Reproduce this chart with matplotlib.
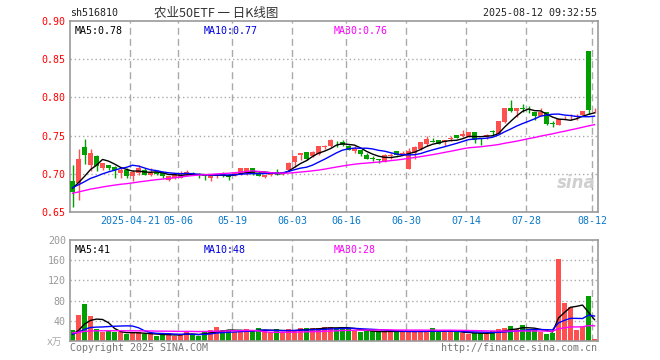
import numpy as np
import pandas as pd
import matplotlib
matplotlib.use("Agg")
import matplotlib.pyplot as plt

plt.rcParams['font.family'] = ['DejaVu Sans Mono', 'Noto Sans CJK SC']

# daily candles, 2025-04-07 .. 2025-08-12
opens = [0.690, 0.688, 0.735, 0.711, 0.723, 0.708, 0.712, 0.709, 0.701, 0.705,
         0.697, 0.701, 0.705, 0.698, 0.703, 0.701, 0.692, 0.6945, 0.695, 0.699,
         0.701, 0.700, 0.699, 0.695, 0.6965, 0.700, 0.699, 0.698, 0.700, 0.701,
         0.707, 0.7017, 0.6956, 0.6983, 0.7026, 0.6996, 0.7044, 0.716, 0.7249, 0.728,
         0.7235, 0.7253, 0.7345, 0.7358, 0.7428, 0.7411, 0.737, 0.7295, 0.7313, 0.725,
         0.7199, 0.7184, 0.7152, 0.7237, 0.7304, 0.7255, 0.7067, 0.7277, 0.7322, 0.7384,
         0.7429, 0.7447, 0.7411, 0.7456, 0.7504, 0.7491, 0.7476, 0.7546, 0.7458, 0.7476,
         0.7548, 0.752, 0.7677, 0.786, 0.7825, 0.7855, 0.785, 0.7808, 0.7755, 0.7808,
         0.766, 0.7642, 0.7725, 0.7751, 0.7742, 0.7769, 0.8607, 0.783]
highs = [0.711, 0.732, 0.746, 0.732, 0.724, 0.714, 0.712, 0.710, 0.708, 0.708,
         0.705, 0.711, 0.708, 0.707, 0.704, 0.702, 0.697, 0.699, 0.704, 0.705,
         0.702, 0.701, 0.700, 0.699, 0.700, 0.703, 0.700, 0.7005, 0.708, 0.708,
         0.708, 0.7035, 0.699, 0.703, 0.7057, 0.7026, 0.716, 0.7231, 0.7275, 0.728,
         0.730, 0.737, 0.7383, 0.745, 0.7432, 0.7438, 0.738, 0.736, 0.7315, 0.7268,
         0.7233, 0.7195, 0.726, 0.727, 0.7304, 0.7304, 0.7335, 0.737, 0.7415, 0.750,
         0.7465, 0.7447, 0.7447, 0.750, 0.7504, 0.757, 0.7546, 0.7546, 0.7467, 0.7519,
         0.7572, 0.769, 0.786, 0.7965, 0.786, 0.7915, 0.789, 0.7808, 0.7855, 0.7808,
         0.7685, 0.7712, 0.7751, 0.7777, 0.7785, 0.782, 0.8607, 0.786]
lows = [0.657, 0.666, 0.713, 0.704, 0.704, 0.705, 0.705, 0.694, 0.695, 0.694,
        0.691, 0.699, 0.698, 0.697, 0.699, 0.694, 0.690, 0.693, 0.694, 0.698,
        0.698, 0.694, 0.692, 0.691, 0.695, 0.696, 0.692, 0.697, 0.699, 0.699,
        0.699, 0.697, 0.694, 0.697, 0.6987, 0.699, 0.704, 0.709, 0.718, 0.7185,
        0.7225, 0.7245, 0.733, 0.735, 0.7355, 0.736, 0.731, 0.727, 0.7237, 0.719,
        0.717, 0.7146, 0.715, 0.719, 0.7245, 0.7245, 0.706, 0.7192, 0.7315, 0.737,
        0.7415, 0.739, 0.7366, 0.7429, 0.7465, 0.748, 0.7476, 0.7406, 0.738, 0.7458,
        0.7506, 0.752, 0.767, 0.781, 0.7747, 0.781, 0.7795, 0.770, 0.7755, 0.7633,
        0.7607, 0.7642, 0.7712, 0.7707, 0.770, 0.7769, 0.778, 0.779]
closes = [0.676, 0.719, 0.724, 0.727, 0.710, 0.714, 0.708, 0.705, 0.705, 0.697,
          0.703, 0.708, 0.699, 0.703, 0.700, 0.697, 0.6965, 0.698, 0.699, 0.702,
          0.699, 0.698, 0.6965, 0.699, 0.699, 0.698, 0.6955, 0.7005, 0.707, 0.707,
          0.7017, 0.6974, 0.6983, 0.7026, 0.700, 0.7022, 0.7144, 0.7231, 0.7275, 0.7192,
          0.7288, 0.7362, 0.7366, 0.744, 0.7424, 0.7375, 0.7317, 0.7322, 0.7259, 0.7197,
          0.7195, 0.718, 0.725, 0.7241, 0.725, 0.7273, 0.7304, 0.7348, 0.7411, 0.745,
          0.742, 0.7393, 0.7447, 0.7465, 0.7469, 0.7518, 0.7546, 0.7441, 0.7454, 0.7502,
          0.7546, 0.769, 0.786, 0.7825, 0.786, 0.785, 0.7845, 0.7755, 0.7808, 0.765,
          0.7655, 0.7712, 0.773, 0.7755, 0.775, 0.782, 0.7834, 0.7832]
volumes = [21, 51, 73, 49, 23, 17, 19, 17, 17, 13,
           17, 17, 13, 13, 9, 13, 15, 10, 13, 18,
           13, 10, 18, 21, 27, 21, 21, 17, 20, 23,
           20, 25, 20, 18, 23, 18, 23, 20, 25, 25,
           25, 25, 27, 28, 25, 27, 24, 20, 17, 19,
           19, 19, 19, 19, 19, 19, 19, 19, 19, 19,
           25, 17, 20, 19, 17, 15, 13, 16, 16, 16,
           19, 23, 25, 29, 23, 31, 23, 21, 17, 13,
           15, 162, 76, 68, 22, 28, 90, 3]

# days before the window (not drawn), estimated from where the MA lines start
pre_close = [0.668, 0.669, 0.670, 0.671, 0.670, 0.669, 0.671, 0.672, 0.673, 0.672,
             0.671, 0.670, 0.671, 0.672, 0.673, 0.672, 0.671, 0.670, 0.671, 0.672,
             0.681, 0.683, 0.684, 0.682, 0.683, 0.682, 0.683, 0.682, 0.682]
pre_vol = [17, 18, 17, 16, 17, 18, 17, 16, 17, 18,
           17, 16, 17, 18, 17, 16, 17, 18, 17, 16,
           16, 15, 14, 15, 14, 11, 11, 12, 10]

tick_idx = [10, 18, 27, 37, 46, 56, 66, 76, 87]
tick_labels = ['2025-04-21', '05-06', '05-19', '06-03', '06-16', '06-30', '07-14', '07-28', '08-12']
price_levels = [0.65, 0.70, 0.75, 0.80, 0.85, 0.90]
vol_levels = [40, 80, 120, 160, 200]
price_ma_text = ['MA5:0.78', 'MA10:0.77', 'MA30:0.76']
vol_ma_text = ['MA5:41', 'MA10:48', 'MA30:28']

RED = '#ff5050'
GREEN = '#00a000'
MA_COLORS = ['black', '#0000ff', '#ff00ff']

n = len(closes)
x = np.arange(n)
o = np.array(opens); h = np.array(highs); l = np.array(lows); c = np.array(closes)
up = c >= o
colors = [RED if u else GREEN for u in up]

cs = pd.Series(pre_close + closes)
vs = pd.Series(pre_vol + volumes)
k = len(pre_close)
price_ma = [cs.rolling(p).mean().iloc[k:].values for p in (5, 10, 30)]
vol_ma = [vs.rolling(p).mean().iloc[k:].values for p in (5, 10, 30)]

W, H = 660, 360
fig = plt.figure(figsize=(W / 100, H / 100), dpi=100)


def rect(left, top, right, bottom):
    return [left / W, 1 - bottom / H, (right - left) / W, (bottom - top) / H]


ax = fig.add_axes(rect(70, 21, 598, 212))
axv = fig.add_axes(rect(70, 240, 598, 341))
xlim = (-0.42, n - 0.42)
grid_x = [i - 0.35 for i in tick_idx]

for a in (ax, axv):
    a.set_xlim(*xlim)
    for s in a.spines.values():
        s.set_color('#999999')
        s.set_linewidth(1.2)
    for gx in grid_x:
        a.axvline(gx, color='#aaaaaa', lw=1, ls=(0, (5, 3)), zorder=0)

# price panel
ax.set_ylim(0.65, 0.90)
for lv in price_levels[1:-1]:
    ax.axhline(lv, color='#aaaaaa', lw=1, ls=(0, (1, 2)), zorder=0)
ax.set_yticks(price_levels)
ax.set_yticklabels(['%.2f' % v for v in price_levels])
ax.tick_params(axis='y', length=0, labelcolor='red', labelsize=7.2, pad=3)
ax.set_xticks(grid_x)
ax.set_xticklabels(tick_labels)
ax.tick_params(axis='x', length=0, labelcolor='#0a78c8', labelsize=7.2, pad=3)

body = np.abs(c - o)
body = np.where(body < 0.0009, 0.0009, body)
ax.vlines(x, l, h, colors=colors, lw=1, zorder=2)
ax.bar(x, body, bottom=np.minimum(o, c), width=0.74, color=colors, lw=0, zorder=3)
for ma, col in zip(price_ma, MA_COLORS):
    ax.plot(x, ma, color=col, lw=1, zorder=4)

ax.text(0.008, 0.975, price_ma_text[0], transform=ax.transAxes, color='black', fontsize=7.2, va='top')
ax.text(0.254, 0.975, price_ma_text[1], transform=ax.transAxes, color='#0000e0', fontsize=7.2, va='top')
ax.text(0.5, 0.975, price_ma_text[2], transform=ax.transAxes, color='#ff00ff', fontsize=7.2, va='top')
ax.text(0.995, 0.15, 'sina', transform=ax.transAxes, color='#cfcfcf', fontsize=12,
        fontweight='bold', style='italic', ha='right', va='center', family='DejaVu Sans')

# volume panel
axv.set_ylim(0, 200)
for lv in vol_levels[:-1]:
    axv.axhline(lv, color='#aaaaaa', lw=1, ls=(0, (1, 2)), zorder=0)
axv.set_yticks(vol_levels)
axv.tick_params(axis='y', length=0, labelcolor='#999999', labelsize=7.2, pad=3)
axv.set_xticks([])
axv.bar(x, volumes, width=0.74, color=colors, lw=0, zorder=2)
for ma, col in zip(vol_ma, MA_COLORS):
    axv.plot(x, ma, color=col, lw=1, zorder=3)
axv.text(0.008, 0.95, vol_ma_text[0], transform=axv.transAxes, color='black', fontsize=7.2, va='top')
axv.text(0.254, 0.95, vol_ma_text[1], transform=axv.transAxes, color='#0000e0', fontsize=7.2, va='top')
axv.text(0.5, 0.95, vol_ma_text[2], transform=axv.transAxes, color='#ff00ff', fontsize=7.2, va='top')

# header and footer
fig.text(70 / W, 1 - 13 / H, 'sh516810', fontsize=7.2, color='#222222', va='center')
fig.text(216 / W, 1 - 13 / H, '农业50ETF 一 日K线图', fontsize=9, color='#333333',
         va='center', ha='center', family=['Noto Sans CJK SC', 'DejaVu Sans'])
fig.text(597 / W, 1 - 13 / H, '2025-08-12 09:32:55', fontsize=7.2, color='#222222',
         va='center', ha='right')
fig.text(62 / W, 1 - 342 / H, 'x万', fontsize=7, color='#aaaaaa', va='center', ha='right',
         family=['DejaVu Sans', 'Noto Sans CJK SC'])
fig.text(70 / W, 1 - 348 / H, 'Copyright 2025 SINA.COM', fontsize=7.2, color='#777777', va='center')
fig.text(597 / W, 1 - 348 / H, 'http://finance.sina.com.cn', fontsize=7.2, color='#777777',
         va='center', ha='right')

fig.savefig('out.png', dpi=100, facecolor='white')
